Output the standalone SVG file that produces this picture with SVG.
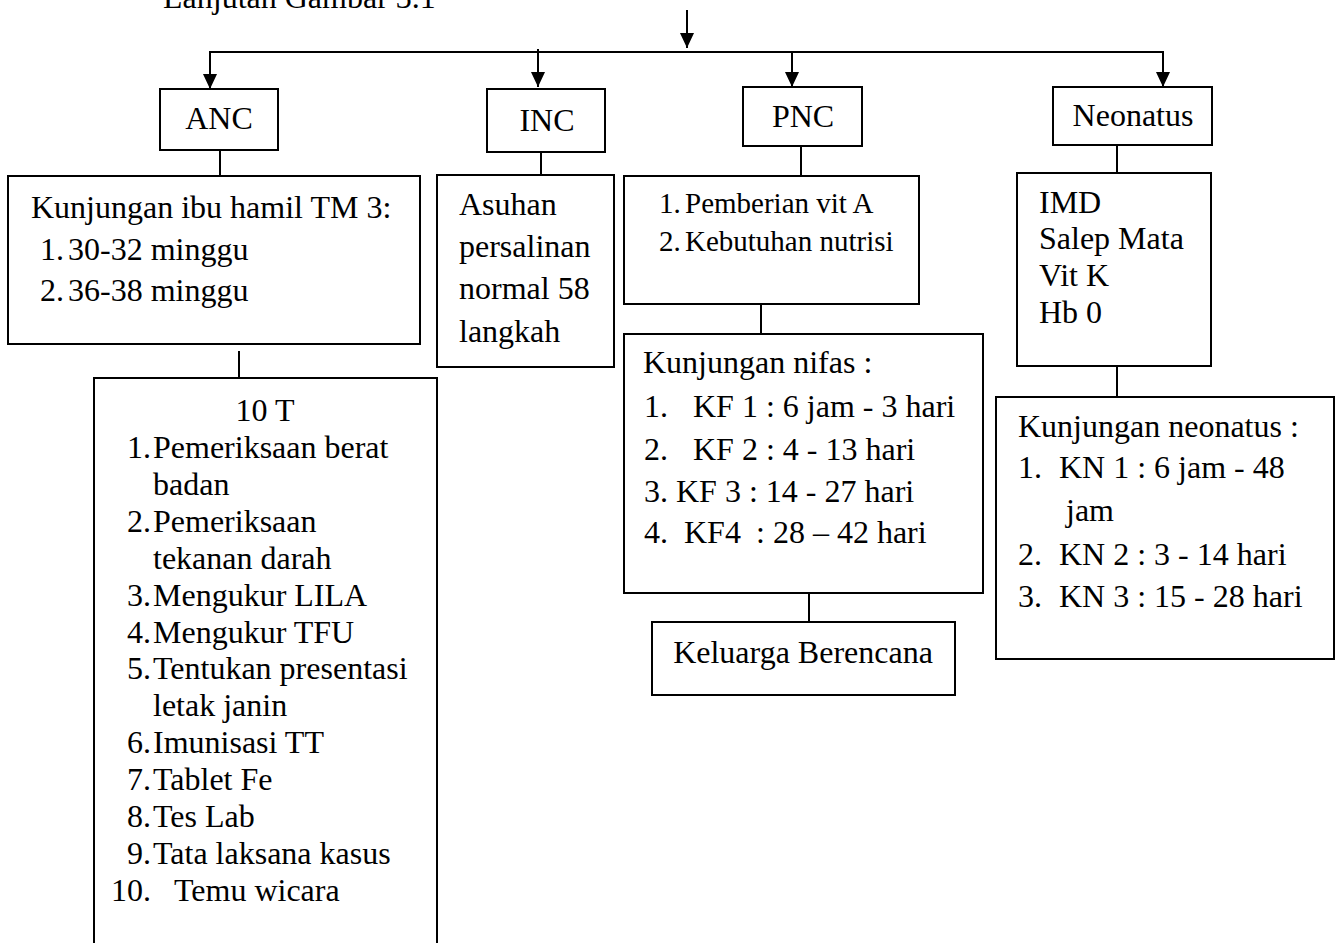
<svg xmlns="http://www.w3.org/2000/svg" width="1336" height="943" viewBox="0 0 1336 943">
<style>
  .bx { fill: #fff; stroke: #000; stroke-width: 2; }
  .ln { fill: none; stroke: #000; stroke-width: 2; }
  text { font-family: "Liberation Serif", "Times New Roman", serif; font-size: 32px; fill: #000; }
  .sm { font-size: 29px; }
  .c { text-anchor: middle; }
</style>
<defs>
  <marker id="ah" viewBox="0 0 15 14" refX="15" refY="7" markerWidth="15" markerHeight="14" markerUnits="userSpaceOnUse" orient="auto">
    <path d="M0,0 L15,7 L0,14 z" fill="#000"/>
  </marker>
</defs>
<rect width="1336" height="943" fill="#fff"/>
<text x="163" y="8">Lanjutan Gambar 3.1</text>

<g id="connectors">
  <path class="ln" d="M687,10 V48" marker-end="url(#ah)"/>
  <path class="ln" d="M1163,52 H210 V89" marker-end="url(#ah)"/>
  <path class="ln" d="M1163,51 V87" marker-end="url(#ah)"/>
  <path class="ln" d="M538,49 V87" marker-end="url(#ah)"/>
  <path class="ln" d="M792,52 V87" marker-end="url(#ah)"/>
  <path class="ln" d="M220,150 V176"/>
  <path class="ln" d="M541,152 V175"/>
  <path class="ln" d="M801,146 V176"/>
  <path class="ln" d="M1117,145 V173"/>
  <path class="ln" d="M239,351 V378"/>
  <path class="ln" d="M761,302 V334"/>
  <path class="ln" d="M809,593 V622"/>
  <path class="ln" d="M1117,366 V397"/>
</g>

<g id="anc">
  <rect class="bx" x="160" y="89" width="118" height="61"/>
  <text class="c" x="219" y="129">ANC</text>
</g>
<g id="inc">
  <rect class="bx" x="487" y="89" width="118" height="63"/>
  <text class="c" x="547" y="131">INC</text>
</g>
<g id="pnc">
  <rect class="bx" x="743" y="87" width="119" height="59"/>
  <text class="c" x="803" y="127">PNC</text>
</g>
<g id="neonatus">
  <rect class="bx" x="1053" y="87" width="159" height="58"/>
  <text class="c" x="1133" y="126">Neonatus</text>
</g>

<g id="anc-kunjungan">
  <rect class="bx" x="8" y="176" width="412" height="168"/>
  <text x="31" y="218">Kunjungan ibu hamil TM 3:</text>
  <text y="260"><tspan x="40">1.</tspan><tspan x="68">30-32 minggu</tspan></text>
  <text y="301"><tspan x="40">2.</tspan><tspan x="68">36-38 minggu</tspan></text>
</g>

<g id="anc-10t">
  <rect class="bx" x="94" y="378" width="343" height="580"/>
  <text class="c" x="265" y="421">10 T</text>
  <text y="458"><tspan x="127">1.</tspan><tspan x="153">Pemeriksaan berat</tspan></text>
  <text x="153" y="495">badan</text>
  <text y="532"><tspan x="127">2.</tspan><tspan x="153">Pemeriksaan</tspan></text>
  <text x="153" y="569">tekanan darah</text>
  <text y="606"><tspan x="127">3.</tspan><tspan x="153">Mengukur LILA</tspan></text>
  <text y="643"><tspan x="127">4.</tspan><tspan x="153">Mengukur TFU</tspan></text>
  <text y="679"><tspan x="127">5.</tspan><tspan x="153">Tentukan presentasi</tspan></text>
  <text x="153" y="716">letak janin</text>
  <text y="753"><tspan x="127">6.</tspan><tspan x="153">Imunisasi TT</tspan></text>
  <text y="790"><tspan x="127">7.</tspan><tspan x="153">Tablet Fe</tspan></text>
  <text y="827"><tspan x="127">8.</tspan><tspan x="153">Tes Lab</tspan></text>
  <text y="864"><tspan x="127">9.</tspan><tspan x="153">Tata laksana kasus</tspan></text>
  <text y="901"><tspan x="111">10.</tspan><tspan x="174">Temu wicara</tspan></text>
</g>

<g id="inc-asuhan">
  <rect class="bx" x="437" y="175" width="177" height="192"/>
  <text x="459" y="215">Asuhan</text>
  <text x="459" y="257">persalinan</text>
  <text x="459" y="299">normal 58</text>
  <text x="459" y="342">langkah</text>
</g>

<g id="pnc-1">
  <rect class="bx" x="624" y="176" width="295" height="128"/>
  <text class="sm" y="213"><tspan x="659">1.</tspan><tspan x="685">Pemberian vit A</tspan></text>
  <text class="sm" y="251"><tspan x="659">2.</tspan><tspan x="685">Kebutuhan nutrisi</tspan></text>
</g>

<g id="pnc-nifas">
  <rect class="bx" x="624" y="334" width="359" height="259"/>
  <text x="643" y="373">Kunjungan nifas :</text>
  <text y="417"><tspan x="644">1.</tspan><tspan x="693">KF 1 : 6 jam - 3 hari</tspan></text>
  <text y="460"><tspan x="644">2.</tspan><tspan x="693">KF 2 : 4 - 13 hari</tspan></text>
  <text x="644" y="502">3. KF 3 : 14 - 27 hari</text>
  <text y="543"><tspan x="644">4.</tspan><tspan x="684">KF4</tspan><tspan x="756">: 28 – 42 hari</tspan></text>
</g>

<g id="pnc-kb">
  <rect class="bx" x="652" y="622" width="303" height="73"/>
  <text class="c" x="803" y="663">Keluarga Berencana</text>
</g>

<g id="neo-1">
  <rect class="bx" x="1017" y="173" width="194" height="193"/>
  <text x="1039" y="213">IMD</text>
  <text x="1039" y="249">Salep Mata</text>
  <text x="1039" y="286">Vit K</text>
  <text x="1039" y="323">Hb 0</text>
</g>

<g id="neo-kunjungan">
  <rect class="bx" x="996" y="397" width="338" height="262"/>
  <text x="1018" y="437">Kunjungan neonatus :</text>
  <text y="478"><tspan x="1018">1.</tspan><tspan x="1059">KN 1 : 6 jam - 48</tspan></text>
  <text x="1066" y="521">jam</text>
  <text y="565"><tspan x="1018">2.</tspan><tspan x="1059">KN 2 : 3 - 14 hari</tspan></text>
  <text y="607"><tspan x="1018">3.</tspan><tspan x="1059">KN 3 : 15 - 28 hari</tspan></text>
</g>
</svg>
